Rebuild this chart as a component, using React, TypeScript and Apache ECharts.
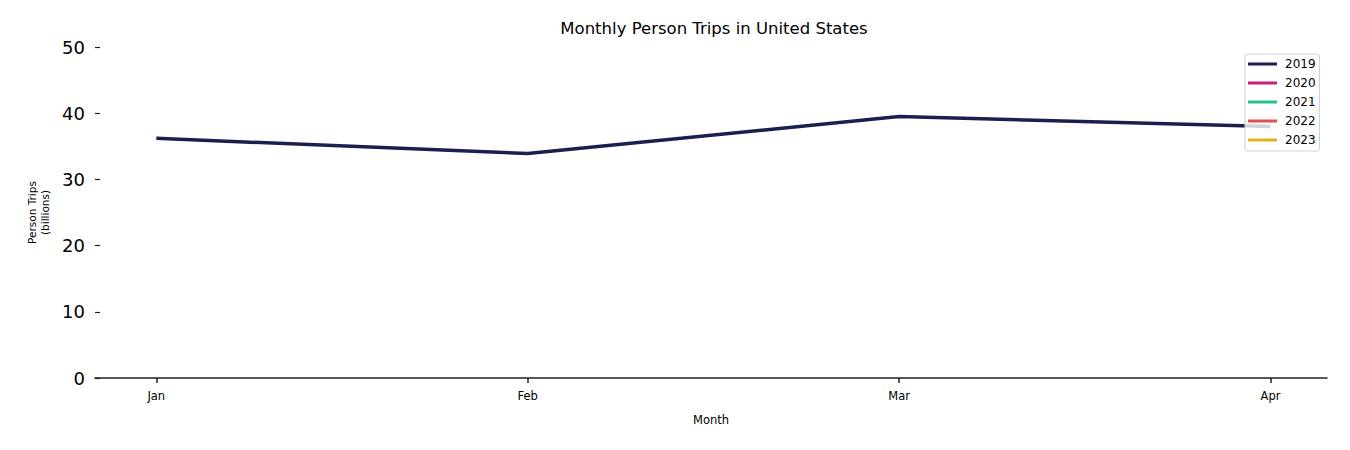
import React, { useEffect, useRef } from "react";
import * as echarts from "echarts";

const months = ["Jan", "Feb", "Mar", "Apr"];
const years = ["2019", "2020", "2021", "2022", "2023"];
const colors = ["#1c1f4e", "#c9207f", "#21c38b", "#e04f4a", "#e2b21d"];
const trips2019 = [36.2, 33.9, 39.5, 38.0];
const yTicks = [0, 10, 20, 30, 40, 50];
const seriesData: Record<string, number[]> = {
  "2019": trips2019,
  "2020": [],
  "2021": [],
  "2022": [],
  "2023": [],
};

const FONT = "DejaVu Sans";

export default function App() {
  const ref = useRef<HTMLDivElement>(null);
  useEffect(() => {
    if (!ref.current) return;
    const chart = echarts.init(ref.current, null, { renderer: "svg" });
    const idx = months.map((_, i) => i);
    chart.setOption({
      animation: false,
      textStyle: { fontFamily: FONT },
      title: {
        text: "Monthly Person Trips in United States",
        left: 701,
        textAlign: "center",
        top: 7,
        textStyle: { fontFamily: FONT, fontSize: 16.5, fontWeight: "normal", color: "#000" },
      },
      legend: {
        orient: "vertical",
        left: 1237,
        top: 46,
        icon: "rect",
        itemWidth: 29,
        itemHeight: 3,
        itemGap: 7,
        padding: [4, 4, 5, 3],
        backgroundColor: "rgba(255,255,255,0.8)",
        borderColor: "#d0d0d0",
        borderWidth: 1,
        borderRadius: 3,
        textStyle: { fontFamily: FONT, fontSize: 12, lineHeight: 12, color: "#000", padding: [0, 0, 0, 3] },
        data: years,
      },
      grid: { left: 87, right: 15, top: 39, bottom: 64, containLabel: false },
      xAxis: {
        type: "value",
        min: -0.165,
        max: 3.152,
        name: "Month",
        nameLocation: "middle",
        nameGap: 36,
        nameTextStyle: { fontFamily: FONT, fontSize: 11.5, color: "#000" },
        axisLine: { show: true, onZero: false, lineStyle: { color: "#222", width: 1.5 } },
        axisTick: { show: true, customValues: idx, length: 5, lineStyle: { color: "#222", width: 1.5 } },
        axisLabel: {
          customValues: idx,
          formatter: (v: number) => months[Math.round(v)] ?? "",
          fontFamily: FONT,
          fontSize: 11.5,
          color: "#000",
          margin: 12,
        },
        splitLine: { show: false },
      },
      yAxis: {
        type: "value",
        min: 0,
        max: 50,
        interval: 10,
        name: "Person Trips\n(billions)",
        nameLocation: "middle",
        nameGap: 44,
        nameRotate: 90,
        nameTextStyle: { fontFamily: FONT, fontSize: 10.5, color: "#000", lineHeight: 13 },
        axisLine: { show: false, onZero: false },
        axisTick: { show: true, inside: true, length: 5, lineStyle: { color: "#222", width: 1.2 } },
        axisLabel: {
          fontFamily: FONT,
          fontSize: 18,
          color: "#000",
          margin: 10,
          customValues: yTicks,
        },
        splitLine: { show: false },
      },
      series: years.map((y, i) => ({
        name: y,
        type: "line",
        data: seriesData[y].map((v, j) => [j, v]),
        color: colors[i],
        lineStyle: { width: 3.5, color: colors[i] },
        showSymbol: false,
        symbol: "none",
        z: 1,
      })),
    });
    return () => chart.dispose();
  }, []);
  return <div ref={ref} style={{ width: 1334, height: 434 }} />;
}
